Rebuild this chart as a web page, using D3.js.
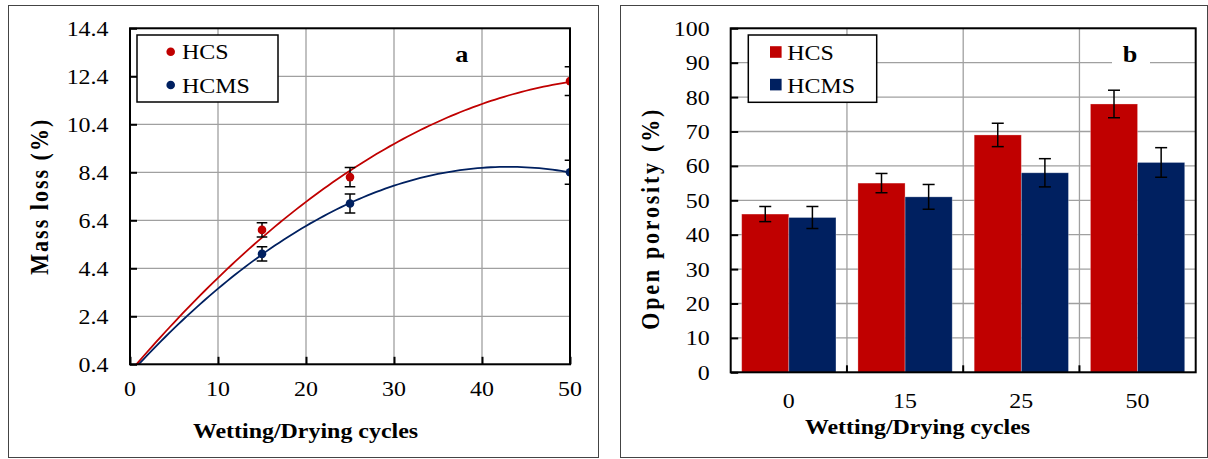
<!DOCTYPE html>
<html>
<head>
<meta charset="utf-8">
<script src="https://cdn.jsdelivr.net/npm/d3@7/dist/d3.min.js"></script>
<style>
  body { margin: 0; background: #fff; }
  svg { display: block; font-family: "Liberation Serif", "Times New Roman", serif; }
</style>
</head>
<body>
<svg width="1208" height="459"></svg>
<script>
// --- data ---
const cycles = [0, 15, 25, 50];
const hcsMassLoss = [0, 6.0, 8.2, 12.2];
const hcsMassErr = [0, 0.3, 0.4, 0.6];
const hcmsMassLoss = [0, 5.0, 7.1, 8.4];
const hcmsMassErr = [0, 0.3, 0.4, 0.5];
const massTicks = [0.4, 2.4, 4.4, 6.4, 8.4, 10.4, 12.4, 14.4];
const cycleTicks = [0, 10, 20, 30, 40, 50];

const porosityCats = ['0', '15', '25', '50'];
const hcsPorosity = [46, 55, 69, 78];
const hcsPorosityErr = [2.2, 2.8, 3.4, 4.0];
const hcmsPorosity = [45, 51, 58, 61];
const hcmsPorosityErr = [3.2, 3.6, 4.1, 4.3];
const porosityTicks = [0, 10, 20, 30, 40, 50, 60, 70, 80, 90, 100];

const seriesNames = ['HCS', 'HCMS'];
const colors = { HCS: '#c00000', HCMS: '#002060' };

const svg = d3.select('svg');
const SX = 1.14; // text in the original is a little wider than it is tall
const gridColor = '#a0a0a0';

function label(g, x, y, txt, o) {
  o = o || {};
  const t = g.append('text')
    .attr('transform', `translate(${x},${y}) scale(${SX},1)` + (o.rotate ? ` rotate(${o.rotate})` : ''))
    .attr('text-anchor', o.anchor || 'middle')
    .style('font-size', (o.size || 21) + 'px')
    .style('font-weight', o.bold ? 'bold' : 'normal')
    .attr('fill', '#000')
    .text(txt);
  if (o.len) t.attr('textLength', o.len).attr('lengthAdjust', 'spacing');
  return t;
}

// least squares 2nd order polynomial (like the spreadsheet trendline)
function quadFit(xs, ys) {
  const s = k => d3.sum(xs, v => Math.pow(v, k));
  const sy = k => d3.sum(xs, (v, i) => Math.pow(v, k) * ys[i]);
  const A = [[s(0), s(1), s(2), sy(0)], [s(1), s(2), s(3), sy(1)], [s(2), s(3), s(4), sy(2)]];
  for (let i = 0; i < 3; i++) {
    for (let j = i + 1; j < 3; j++) {
      const f = A[j][i] / A[i][i];
      for (let k = i; k < 4; k++) A[j][k] -= f * A[i][k];
    }
  }
  const c = [0, 0, 0];
  for (let i = 2; i >= 0; i--) {
    let v = A[i][3];
    for (let k = i + 1; k < 3; k++) v -= A[i][k] * c[k];
    c[i] = v / A[i][i];
  }
  return t => c[0] + c[1] * t + c[2] * t * t;
}

// panel borders
svg.append('rect').attr('x', 8.5).attr('y', 5.5).attr('width', 590).attr('height', 452)
  .attr('fill', 'none').attr('stroke', '#444').attr('stroke-width', 1);
svg.append('rect').attr('x', 620.5).attr('y', 5.5).attr('width', 587).attr('height', 452)
  .attr('fill', 'none').attr('stroke', '#444').attr('stroke-width', 1);

// ================= panel a : mass loss =================
const a = { left: 130, right: 570, top: 28.3, bottom: 364.3 };
const xA = d3.scaleLinear().domain([0, 50]).range([a.left, a.right]);
const yA = d3.scaleLinear().domain([0.4, 14.4]).range([a.bottom, a.top]);
const gA = svg.append('g');

svg.append('defs').append('clipPath').attr('id', 'clipA')
  .append('rect').attr('x', a.left).attr('y', a.top)
  .attr('width', a.right - a.left).attr('height', a.bottom - a.top);

gA.append('g').selectAll('line').data(massTicks).join('line')
  .attr('x1', a.left).attr('x2', a.right)
  .attr('y1', d => yA(d)).attr('y2', d => yA(d))
  .attr('stroke', gridColor).attr('stroke-width', 1.3);
gA.append('g').selectAll('line').data(cycleTicks).join('line')
  .attr('y1', a.top).attr('y2', a.bottom)
  .attr('x1', d => xA(d)).attr('x2', d => xA(d))
  .attr('stroke', gridColor).attr('stroke-width', 1.3);

const plotA = gA.append('g').attr('clip-path', 'url(#clipA)');
const massSeries = [
  { name: 'HCS', vals: hcsMassLoss, err: hcsMassErr },
  { name: 'HCMS', vals: hcmsMassLoss, err: hcmsMassErr }
];
const samples = d3.range(0, 50.001, 0.5);
massSeries.forEach(s => {
  const f = quadFit(cycles, s.vals);
  plotA.append('path')
    .datum(samples.map(t => [t, f(t)]))
    .attr('fill', 'none').attr('stroke', colors[s.name]).attr('stroke-width', 1.8)
    .attr('d', d3.line().x(d => xA(d[0])).y(d => yA(d[1])));
});
massSeries.forEach(s => {
  const pts = cycles.map((c, i) => ({ c, v: s.vals[i], e: s.err[i] }));
  const eb = plotA.append('g').selectAll('g').data(pts).join('g')
    .attr('stroke', '#000').attr('stroke-width', 1.5);
  eb.append('line').attr('x1', d => xA(d.c)).attr('x2', d => xA(d.c))
    .attr('y1', d => yA(d.v - d.e)).attr('y2', d => yA(d.v + d.e));
  eb.append('line').attr('x1', d => xA(d.c) - 5.3).attr('x2', d => xA(d.c) + 5.3)
    .attr('y1', d => yA(d.v + d.e)).attr('y2', d => yA(d.v + d.e));
  eb.append('line').attr('x1', d => xA(d.c) - 5.3).attr('x2', d => xA(d.c) + 5.3)
    .attr('y1', d => yA(d.v - d.e)).attr('y2', d => yA(d.v - d.e));
  plotA.append('g').selectAll('circle').data(pts).join('circle')
    .attr('cx', d => xA(d.c)).attr('cy', d => yA(d.v)).attr('r', 4.3)
    .attr('fill', colors[s.name]);
});

gA.append('rect').attr('x', a.left).attr('y', a.top)
  .attr('width', a.right - a.left).attr('height', a.bottom - a.top)
  .attr('fill', 'none').attr('stroke', '#000').attr('stroke-width', 2);

const yAxisA = gA.append('g').attr('transform', `translate(${a.left},0)`)
  .call(d3.axisLeft(yA).tickValues(massTicks).tickSize(-7).tickFormat(''));
const xAxisA = gA.append('g').attr('transform', `translate(0,${a.bottom})`)
  .call(d3.axisBottom(xA).tickValues(cycleTicks).tickSize(-7.5).tickFormat(''));
[yAxisA, xAxisA].forEach(ax => {
  ax.select('.domain').remove();
  ax.selectAll('.tick line').attr('stroke', '#000').attr('stroke-width', 2);
});

massTicks.forEach(v => label(gA, a.left - 21.5, yA(v) + 7.3, d3.format('.1f')(v), { anchor: 'end' }));
cycleTicks.forEach(v => label(gA, xA(v), 396, String(v)));
label(gA, 305.5, 438, 'Wetting/Drying cycles', { bold: true });
label(gA, 48.3, 197.2, 'Mass loss (%)', { bold: true, size: 22, rotate: -90, len: 155 });
label(gA, 461.7, 62, 'a', { bold: true, size: 23 });

// legend a
gA.append('rect').attr('x', 137).attr('y', 35).attr('width', 141).attr('height', 67)
  .attr('fill', '#fff').attr('stroke', '#000').attr('stroke-width', 1.5);
seriesNames.forEach((n, i) => {
  gA.append('circle').attr('cx', 170.7).attr('cy', 51.7 + i * 33.3).attr('r', 4.3).attr('fill', colors[n]);
  label(gA, 182, 59.3 + i * 33.4, n, { anchor: 'start' });
});

// ================= panel b : open porosity =================
const b = { left: 730.7, right: 1195.7, top: 28.3, bottom: 372.3 };
const xB = d3.scaleBand().domain(porosityCats).range([b.left, b.right]).padding(0);
const xS = d3.scaleBand().domain(seriesNames).range([0, xB.bandwidth()])
  .paddingInner(0).paddingOuter(0.233);
const yB = d3.scaleLinear().domain([0, 100]).range([b.bottom, b.top]);
const gB = svg.append('g');

gB.append('g').selectAll('line').data(porosityTicks).join('line')
  .attr('x1', b.left).attr('x2', b.right)
  .attr('y1', d => yB(d)).attr('y2', d => yB(d))
  .attr('stroke', gridColor).attr('stroke-width', 1.3);
const bounds = porosityCats.slice(1);
gB.append('g').selectAll('line').data(bounds).join('line')
  .attr('y1', b.top).attr('y2', b.bottom)
  .attr('x1', d => xB(d)).attr('x2', d => xB(d))
  .attr('stroke', gridColor).attr('stroke-width', 1.3);

const porSeries = [
  { name: 'HCS', vals: hcsPorosity, err: hcsPorosityErr },
  { name: 'HCMS', vals: hcmsPorosity, err: hcmsPorosityErr }
];
porSeries.forEach(s => {
  const rows = porosityCats.map((c, i) => ({ c, v: s.vals[i], e: s.err[i] }));
  gB.append('g').selectAll('rect').data(rows).join('rect')
    .attr('x', d => xB(d.c) + xS(s.name)).attr('width', xS.bandwidth())
    .attr('y', d => yB(d.v)).attr('height', d => yB(0) - yB(d.v))
    .attr('fill', colors[s.name]).attr('stroke', '#ffffff').attr('stroke-opacity', 0.35).attr('stroke-width', 0.8);
});
porSeries.forEach(s => {
  const rows = porosityCats.map((c, i) => ({ c, v: s.vals[i], e: s.err[i] }));
  const cx = d => xB(d.c) + xS(s.name) + xS.bandwidth() / 2;
  const eb = gB.append('g').selectAll('g').data(rows).join('g')
    .attr('stroke', '#000').attr('stroke-width', 1.5);
  eb.append('line').attr('x1', cx).attr('x2', cx)
    .attr('y1', d => yB(d.v - d.e)).attr('y2', d => yB(d.v + d.e));
  eb.append('line').attr('x1', d => cx(d) - 6).attr('x2', d => cx(d) + 6)
    .attr('y1', d => yB(d.v + d.e)).attr('y2', d => yB(d.v + d.e));
  eb.append('line').attr('x1', d => cx(d) - 6).attr('x2', d => cx(d) + 6)
    .attr('y1', d => yB(d.v - d.e)).attr('y2', d => yB(d.v - d.e));
});

gB.append('rect').attr('x', b.left).attr('y', b.top)
  .attr('width', b.right - b.left).attr('height', b.bottom - b.top)
  .attr('fill', 'none').attr('stroke', '#000').attr('stroke-width', 2);

const yAxisB = gB.append('g').attr('transform', `translate(${b.left},0)`)
  .call(d3.axisLeft(yB).tickValues(porosityTicks).tickSize(-7.5).tickFormat(''));
yAxisB.select('.domain').remove();
yAxisB.selectAll('.tick line').attr('stroke', '#000').attr('stroke-width', 2);
gB.append('g').selectAll('line').data(bounds).join('line')
  .attr('x1', d => xB(d)).attr('x2', d => xB(d))
  .attr('y1', b.bottom).attr('y2', b.bottom - 7)
  .attr('stroke', '#000').attr('stroke-width', 2);

porosityTicks.forEach(v => label(gB, b.left - 21, yB(v) + 7.5, String(v), { anchor: 'end' }));
porosityCats.forEach(c => label(gB, xB(c) + xB.bandwidth() / 2, 408, c));
label(gB, 917.5, 434, 'Wetting/Drying cycles', { bold: true });
label(gB, 659.3, 219.7, 'Open porosity (%)', { bold: true, size: 22, rotate: -90, len: 220 });
gB.append('rect').attr('x', 1112).attr('y', 44).attr('width', 38).attr('height', 26).attr('fill', '#fff');
label(gB, 1130, 62, 'b', { bold: true, size: 23 });

// legend b
gB.append('rect').attr('x', 748.3).attr('y', 35).attr('width', 128.4).attr('height', 67.3)
  .attr('fill', '#fff').attr('stroke', '#000').attr('stroke-width', 1.5);
seriesNames.forEach((n, i) => {
  gB.append('rect').attr('x', 770).attr('y', 46.2 + i * 32.6).attr('width', 11.6).attr('height', 11.6)
    .attr('fill', colors[n]);
  label(gB, 787.3, 60 + i * 32.7, n, { anchor: 'start' });
});
</script>
</body>
</html>
